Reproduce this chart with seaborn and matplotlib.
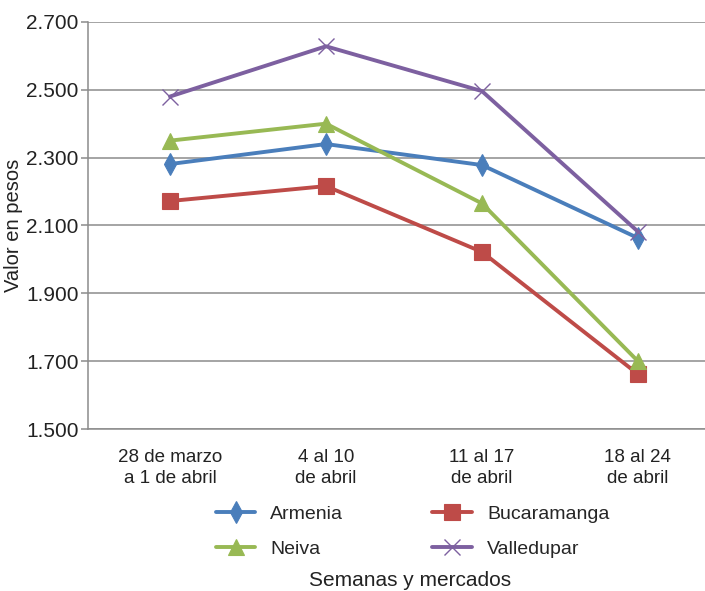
import matplotlib
matplotlib.use('Agg')
import matplotlib.pyplot as plt
import pandas as pd
import seaborn as sns

semanas = ['28 de marzo\na 1 de abril', '4 al 10\nde abril', '11 al 17\nde abril', '18 al 24\nde abril']
armenia = [2281, 2340, 2278, 2063]
bucaramanga = [2172, 2216, 2022, 1662]
neiva = [2350, 2400, 2165, 1700]
valledupar = [2480, 2628, 2496, 2082]
mercados = ['Armenia', 'Bucaramanga', 'Neiva', 'Valledupar']
colores = ['#4A7EBB', '#BE4B48', '#98B954', '#7D60A0']
y_ticks = [1500, 1700, 1900, 2100, 2300, 2500, 2700]

df = pd.DataFrame({
    'semana': semanas * 4,
    'valor': armenia + bucaramanga + neiva + valledupar,
    'mercado': [m for m in mercados for _ in semanas],
})

sns.set_theme(style='white')
plt.rcParams['font.family'] = ['Liberation Sans', 'DejaVu Sans']

fig = plt.figure(figsize=(7.05, 5.91), dpi=100)
ax = fig.add_axes([0.125, 0.274, 0.875, 0.689])

marcas = {'Armenia': 'd', 'Bucaramanga': 's', 'Neiva': '^', 'Valledupar': 'x'}
tamanos = {'Armenia': 11, 'Bucaramanga': 11, 'Neiva': 12, 'Valledupar': 12}
for m, c in zip(mercados, colores):
    sub = df[df['mercado'] == m]
    sns.lineplot(data=sub, x='semana', y='valor', color=c, marker=marcas[m],
                 markersize=tamanos[m], markeredgecolor=c,
                 markeredgewidth=1.0 if m == 'Valledupar' else 0.8,
                 linewidth=2.8, label=m, legend=False, ax=ax)

ax.set_xlim(-0.525, 3.43)
ax.set_ylim(1500, 2700)
ax.set_yticks(y_ticks)
ax.set_yticklabels(['{:,}'.format(v).replace(',', '.') for v in y_ticks], fontsize=15, color='#222222')
ax.set_xticks(range(len(semanas)))
ax.set_xticklabels(semanas, fontsize=13.5, color='#222222', linespacing=1.35)
ax.yaxis.grid(True, color='#8c8c8c', linewidth=1.1)
ax.xaxis.grid(False)
for lado in ['top', 'right']:
    ax.spines[lado].set_visible(False)
for lado in ['left', 'bottom']:
    ax.spines[lado].set_color('#8c8c8c')
    ax.spines[lado].set_linewidth(1.1)
ax.tick_params(axis='y', left=True, length=5, width=1.1, color='#8c8c8c', pad=2)
ax.tick_params(axis='x', bottom=False, pad=8)

ax.set_ylabel('Valor en pesos', fontsize=14.5, color='#222222', labelpad=2)
ax.set_xlabel('')
fig.text(0.582, 0.008, 'Semanas y mercados', ha='center', va='baseline',
         fontsize=15, color='#222222')

orden = [0, 2, 1, 3]
handles = [ax.lines[i] for i in orden]
labels = [mercados[i] for i in orden]
ax.legend(handles, labels, ncol=2, loc='upper center', bbox_to_anchor=(0.585, 0.162),
          bbox_transform=fig.transFigure, frameon=False,
          prop={'size': 14}, handlelength=2.05, columnspacing=4.6,
          labelspacing=0.9, handletextpad=0.75, borderpad=0)

fig.savefig('out.png', dpi=100)
